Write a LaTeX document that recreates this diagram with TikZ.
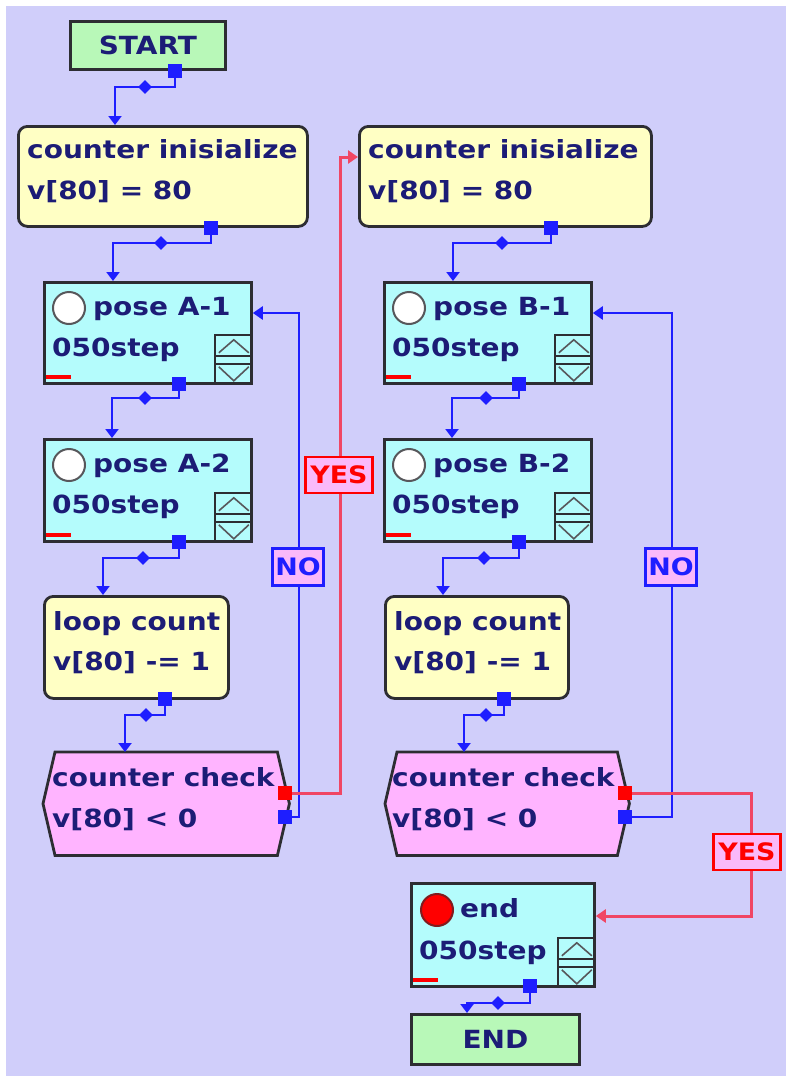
\documentclass[tikz,border=0pt]{standalone}
\usepackage{fontspec}
\setmainfont{DejaVu Sans}[FakeStretch=1.12]
\usetikzlibrary{arrows.meta,calc,shapes.geometric}
\definecolor{bg}{RGB}{208,206,250}
\definecolor{navy}{RGB}{28,28,118}
\definecolor{boxline}{RGB}{45,45,50}
\definecolor{startgreen}{RGB}{184,248,184}
\definecolor{procyellow}{RGB}{255,255,196}
\definecolor{posecyan}{RGB}{180,252,252}
\definecolor{checkpink}{RGB}{255,180,255}
\definecolor{connblue}{RGB}{30,30,255}
\definecolor{yesred}{RGB}{240,70,100}
\definecolor{labpink}{RGB}{250,185,250}
\tikzset{
  box/.style={draw=boxline, line width=2.8pt, inner sep=0, anchor=north west},
  startbox/.style={box, fill=startgreen, text=navy, font=\fontsize{25}{25}\selectfont\bfseries},
  procbox/.style={box, fill=procyellow, rounded corners=9pt},
  posebox/.style={box, fill=posecyan},
  hexarea/.style={inner sep=0, anchor=north west},
  txt/.style={text=navy, font=\fontsize{25}{25}\selectfont\bfseries, inner sep=0, anchor=base west},
  port/.style={fill=connblue, minimum size=14pt, inner sep=0},
  rport/.style={fill=red, minimum size=14pt, inner sep=0},
  conn/.style={draw=connblue, line width=2.8pt, -{Triangle[length=9pt,width=13pt]}},
  dia/.style={diamond, fill=connblue, minimum size=14pt, inner sep=0},
  noline/.style={draw=connblue, line width=2.8pt, -{Triangle[length=10pt,width=13pt]}},
  yesline/.style={draw=yesred, line width=3pt, -{Triangle[length=10pt,width=13pt]}},
  nolab/.style={draw=connblue, line width=2.4pt, fill=labpink, text=connblue, inner sep=0,
    minimum width=51pt, minimum height=37pt, font=\fontsize{24}{24}\selectfont\bfseries},
  yeslab/.style={draw=red, line width=2.4pt, fill=labpink, text=red, inner sep=0,
    minimum width=67pt, minimum height=36pt, font=\fontsize{24}{24}\selectfont\bfseries},
  updown/.pic={
    \draw[boxline, line width=2.4pt] (-38,0) -- (-38,-50) -- (0,-50);
    \draw[boxline, line width=2.4pt] (-38,-29) -- (0,-29);
    \draw[boxline, line width=2.4pt] (-38,-21) -- (0,-21);
    \draw[boxline!80, line width=1.6pt] (-34,-32) -- (-19,-45) -- (-4,-32);
    \draw[boxline!80, line width=1.6pt] (-34,-18) -- (-19,-4) -- (-4,-18);
  },
  reddash/.pic={\draw[red, line width=3.5pt] (3,-8) -- (28,-8);},
  emptycirc/.style={circle, draw=boxline!80, line width=2pt, fill=white, minimum size=32pt, inner sep=0},
  redcirc/.style={circle, draw=boxline!60!red, line width=2pt, fill=red, minimum size=32pt, inner sep=0},
}
\begin{document}
\begin{tikzpicture}[x=1pt,y=-1pt]
\useasboundingbox (0,0) rectangle (786,1076);
\fill[white] (0,0) rectangle (786,1076);
\fill[bg] (6,6) rectangle (786,1076);

% ---------- boxes ----------
\node[startbox, minimum width=155pt, minimum height=48pt] (start) at (69,20) {START};
\node[procbox, minimum width=289pt, minimum height=100pt] (ciA) at (17,125) {};
\node[posebox, minimum width=207pt, minimum height=101pt] (pA1) at (43,281) {};
\node[posebox, minimum width=207pt, minimum height=102pt] (pA2) at (43,438) {};
\node[procbox, minimum width=184pt, minimum height=102pt] (lcA) at (43,595) {};
\node[hexarea, minimum width=222pt, minimum height=103pt] (chkA) at (55,752) {};
\draw[draw=boxline, line width=2.8pt, fill=checkpink] (chkA.north west) -- (chkA.north east)
  -- ($(chkA.east)+(12,0)$) -- (chkA.south east) -- (chkA.south west) -- ($(chkA.west)+(-12,0)$) -- cycle;

\node[procbox, minimum width=292pt, minimum height=100pt] (ciB) at (358,125) {};
\node[posebox, minimum width=207pt, minimum height=101pt] (pB1) at (383,281) {};
\node[posebox, minimum width=207pt, minimum height=102pt] (pB2) at (383,438) {};
\node[procbox, minimum width=183pt, minimum height=102pt] (lcB) at (384,595) {};
\node[hexarea, minimum width=220pt, minimum height=103pt] (chkB) at (397,752) {};
\draw[draw=boxline, line width=2.8pt, fill=checkpink] (chkB.north west) -- (chkB.north east)
  -- ($(chkB.east)+(12,0)$) -- (chkB.south east) -- (chkB.south west) -- ($(chkB.west)+(-12,0)$) -- cycle;

\node[posebox, minimum width=183pt, minimum height=103pt] (endb) at (410,882) {};
\node[startbox, minimum width=168pt, minimum height=50pt] (END) at (410,1013) {END};

% ---------- widgets ----------
\pic at (pA1.south east) {updown};
\pic at (pA2.south east) {updown};
\pic at (pB1.south east) {updown};
\pic at (pB2.south east) {updown};
\pic at (endb.south east) {updown};
\pic at (pA1.south west) {reddash};
\pic at (pA2.south west) {reddash};
\pic at (pB1.south west) {reddash};
\pic at (pB2.south west) {reddash};
\pic at (endb.south west) {reddash};
\node[emptycirc] (cA1) at ($(pA1.north west)+(26,27)$) {};
\node[emptycirc] (cA2) at ($(pA2.north west)+(26,27)$) {};
\node[emptycirc] (cB1) at ($(pB1.north west)+(26,27)$) {};
\node[emptycirc] (cB2) at ($(pB2.north west)+(26,27)$) {};
\node[redcirc] (cE) at ($(endb.north west)+(27,28)$) {};

% ---------- texts ----------
\node[txt] (tciA1) at (27,158) {counter inisialize};
\node[txt] (tciA2) at (27,199) {v[80] = 80};
\node[txt] (tpA1a) at (93,315) {pose A-1};
\node[txt] (tpA1b) at (52,356) {050step};
\node[txt] (tpA2a) at (93,472) {pose A-2};
\node[txt] (tpA2b) at (52,513) {050step};
\node[txt] (tlcA1) at (53,630) {loop count};
\node[txt] (tlcA2) at (53,670) {v[80] -= 1};
\node[txt] (tchA1) at (52,786) {counter check};
\node[txt] (tchA2) at (52,827) {v[80] < 0};

\node[txt] (tciB1) at (368,158) {counter inisialize};
\node[txt] (tciB2) at (368,199) {v[80] = 80};
\node[txt] (tpB1a) at (433,315) {pose B-1};
\node[txt] (tpB1b) at (392,356) {050step};
\node[txt] (tpB2a) at (433,472) {pose B-2};
\node[txt] (tpB2b) at (392,513) {050step};
\node[txt] (tlcB1) at (394,630) {loop count};
\node[txt] (tlcB2) at (394,670) {v[80] -= 1};
\node[txt] (tchB1) at (392,786) {counter check};
\node[txt] (tchB2) at (392,827) {v[80] < 0};

\node[txt] (tE1) at (460,917) {end};
\node[txt] (tE2) at (419,959) {050step};

% ---------- ports ----------
\node[port] (pS) at (175,71) {};
\node[port] (pCa) at (211,228) {};
\node[port] (pA1p) at (179,384) {};
\node[port] (pA2p) at (179,542) {};
\node[port] (pLa) at (165,699) {};
\node[port] (pCb) at (551,228) {};
\node[port] (pB1p) at (519,384) {};
\node[port] (pB2p) at (519,542) {};
\node[port] (pLb) at (504,699) {};
\node[port] (pE) at (530,986) {};
\node[rport] (chkAr) at (285,793) {};
\node[port] (chkAb) at (285,817) {};
\node[rport] (chkBr) at (625,793) {};
\node[port] (chkBb) at (625,817) {};

% ---------- bend points ----------
\coordinate (kS) at (115,87);
\coordinate (kCa) at (113,243);
\coordinate (kA1) at (112,398);
\coordinate (kA2) at (103,558);
\coordinate (kLa) at (125,715);
\coordinate (kCb) at (453,243);
\coordinate (kB1) at (452,398);
\coordinate (kB2) at (443,558);
\coordinate (kLb) at (464,715);
\coordinate (kE) at (467,1003);

% ---------- flow connectors ----------
\draw[conn] (pS.center) |- (kS) -- (kS |- ciA.north);
\draw[conn] (pCa.center) |- (kCa) -- (kCa |- pA1.north);
\draw[conn] (pA1p.center) |- (kA1) -- (kA1 |- pA2.north);
\draw[conn] (pA2p.center) |- (kA2) -- (kA2 |- lcA.north);
\draw[conn] (pLa.center) |- (kLa) -- (kLa |- chkA.north);
\draw[conn] (pCb.center) |- (kCb) -- (kCb |- pB1.north);
\draw[conn] (pB1p.center) |- (kB1) -- (kB1 |- pB2.north);
\draw[conn] (pB2p.center) |- (kB2) -- (kB2 |- lcB.north);
\draw[conn] (pLb.center) |- (kLb) -- (kLb |- chkB.north);
\draw[conn] (pE.center) |- (kE) -- (kE |- END.north);
\node[port] at (pS) {};
\node[port] at (pCa) {};
\node[port] at (pA1p) {};
\node[port] at (pA2p) {};
\node[port] at (pLa) {};
\node[port] at (pCb) {};
\node[port] at (pB1p) {};
\node[port] at (pB2p) {};
\node[port] at (pLb) {};
\node[port] at (pE) {};
\node[dia] (dS) at (145,87) {};
\node[dia] (dCa) at (161,243) {};
\node[dia] (dA1) at (145,398) {};
\node[dia] (dA2) at (143,558) {};
\node[dia] (dLa) at (146,715) {};
\node[dia] (dCb) at (502,243) {};
\node[dia] (dB1) at (486,398) {};
\node[dia] (dB2) at (484,558) {};
\node[dia] (dLb) at (486,715) {};
\node[dia] (dE) at (498,1003) {};

% ---------- decision connectors ----------
\coordinate (nA1) at (299,817);
\coordinate (nA2) at (299,313);
\draw[noline] (chkAb.center) -- (nA1) -- (nA2) -- (nA2 -| pA1.east);
\coordinate (yA1) at (340,793);
\coordinate (yA2) at (340,157);
\draw[yesline] (chkAr.center) -- (yA1) -- (yA2) -- (yA2 -| ciB.west);
\coordinate (nB1) at (672,817);
\coordinate (nB2) at (672,313);
\draw[noline] (chkBb.center) -- (nB1) -- (nB2) -- (nB2 -| pB1.east);
\coordinate (yB1) at (751,793);
\coordinate (yB2) at (751,916);
\draw[yesline] (chkBr.center) -- (yB1) -- (yB2) -- (yB2 -| endb.east);

% redraw ports on top
\node[rport] at (chkAr) {};
\node[port] at (chkAb) {};
\node[rport] at (chkBr) {};
\node[port] at (chkBb) {};

\node[nolab] (noA) at (298,567) {NO};
\node[yeslab] (yesA) at (339,475) {YES};
\node[nolab] (noB) at (671,567) {NO};
\node[yeslab] (yesB) at (747,852) {YES};
\end{tikzpicture}
\end{document}
